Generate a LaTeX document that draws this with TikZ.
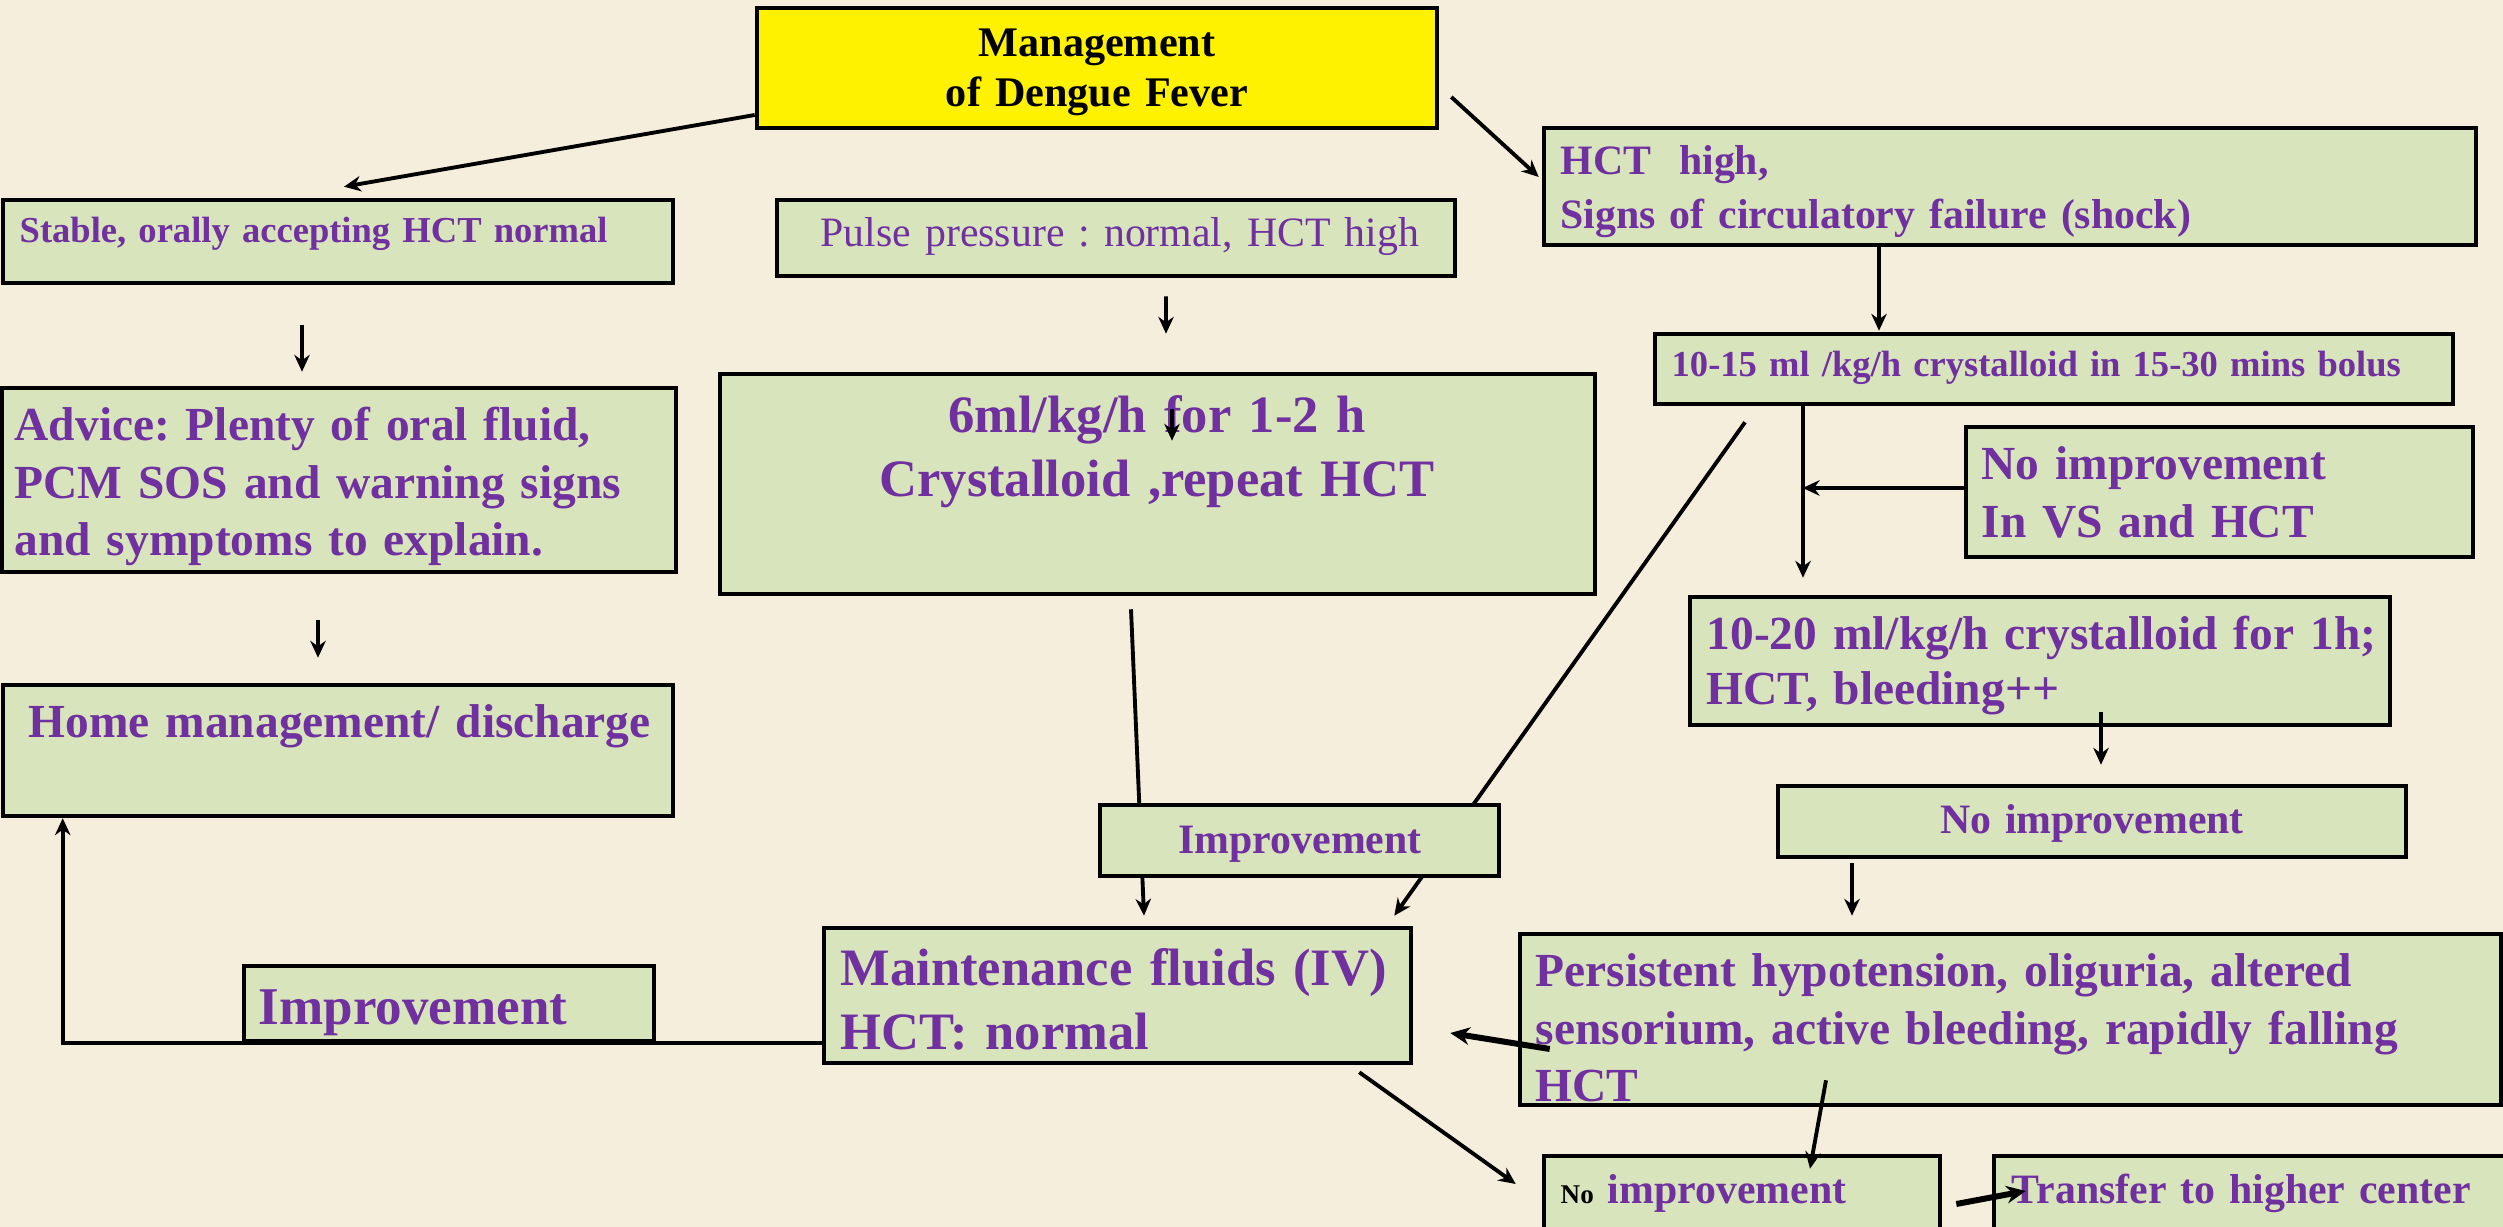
\documentclass[tikz,border=0pt]{standalone}
\usepackage{fontspec}
\setmainfont{Liberation Serif}
\usetikzlibrary{arrows.meta,calc}
\frenchspacing

\definecolor{paper}{HTML}{F6EEDC}
\definecolor{boxgreen}{HTML}{D8E4BC}
\definecolor{dpurple}{HTML}{7030A0}

\pgfdeclarelayer{paperlayer}
\pgfdeclarelayer{under}
\pgfsetlayers{paperlayer,under,main}

% type sizes (1 unit = 0.1 mm)
\newcommand\fsS{\fontsize{10.4pt}{12.6pt}\selectfont}
\newcommand\fsM{\fontsize{11.9pt}{15.1pt}\selectfont}
\newcommand\fsL{\fontsize{13.5pt}{16.3pt}\selectfont}
\newcommand\fsXL{\fontsize{14.95pt}{18.1pt}\selectfont}

\tikzset{
  box/.style={draw=black, line width=1.3pt, fill=boxgreen, inner sep=0pt, rectangle},
  hbox/.style={box, fill=yellow},
  txt/.style={inner sep=0pt, text=dpurple, anchor=base west, align=left, text width=#1},
  txt/.default=100mm,
  link/.style={line width=1.1pt, -{Stealth[length=4.8pt,width=4.4pt]}},
  heavy/.style={line width=1.7pt, -{Stealth[length=5.5pt,width=5pt]}},
}

\begin{document}
\begin{tikzpicture}[x=0.1mm, y=-0.1mm]
\useasboundingbox (0,0) rectangle (2503,1227);
\begin{pgfonlayer}{paperlayer}
  \fill[paper] (0,0) rectangle (2503,1227);
\end{pgfonlayer}

\begin{scope}
\clip (0,0) rectangle (2503,1227);

% ---- boxes ----
\node[hbox, minimum width=68mm,   minimum height=12mm]   (title)    at (1097,68)      {};
\node[box,  minimum width=67mm,   minimum height=8.3mm]  (stable)   at (338,241.5)    {};
\node[box,  minimum width=67.8mm, minimum height=7.6mm]  (pulse)    at (1116,238)     {};
\node[box,  minimum width=67.4mm, minimum height=18.4mm] (advice)   at (339,480)      {};
\node[box,  minimum width=87.5mm, minimum height=22mm]   (sixml)    at (1157.5,484)   {};
\node[box,  minimum width=93.2mm, minimum height=11.7mm] (shock)    at (2010,186.5)   {};
\node[box,  minimum width=79.8mm, minimum height=7mm]    (bolus)    at (2054,369)     {};
\node[box,  minimum width=50.7mm, minimum height=13mm]   (novs)     at (2219.5,492)   {};
\node[box,  minimum width=70mm,   minimum height=12.8mm] (onehr)    at (2040,661)     {};
\node[box,  minimum width=62.8mm, minimum height=7.1mm]  (noimp)    at (2092,821.5)   {};
\node[box,  minimum width=98.1mm, minimum height=17.1mm] (persist)  at (2010.5,1019.5) {};
\node[box,  minimum width=39.6mm, minimum height=10.4mm] (noimpb)   at (1742,1208)    {};
\node[box,  minimum width=56.6mm, minimum height=10.4mm] (transfer) at (2277,1208)    {};
\node[box,  minimum width=67mm,   minimum height=13.1mm] (home)     at (338,750.5)    {};
\node[box,  minimum width=58.7mm, minimum height=13.5mm] (maint)    at (1117.5,995.5) {};
\node[box,  minimum width=39.9mm, minimum height=7.1mm]  (imprmid)  at (1299.5,840.5) {};

% return line from maintenance back to home care
\draw[link] ($(maint.south west)+(0,-22)$) -| ($(home.south west)+(62,0)$);
\node[box,  minimum width=41mm,   minimum height=7.5mm]  (imprbl)   at (449,1003.5)   {};

% ---- texts ----
\node[txt=60mm, text=black, anchor=base, align=center,
      font=\bfseries\fontsize{12pt}{14.2pt}\selectfont] (t-title) at (1097,57)
      {Management\\of Dengue Fever};
\node[txt, font=\bfseries\fsS] (t-stable) at (19,243) {Stable, orally accepting HCT normal};
\node[txt, font=\fsM] (t-pulse) at (820,247) {Pulse pressure : normal, HCT high};
\node[txt, font=\bfseries\fsL] (t-advice) at (14,441)
      {Advice: Plenty of oral fluid,\\PCM SOS and warning signs\\and symptoms to explain.};
\node[txt=85mm, anchor=base, align=center, font=\bfseries\fsXL] (t-sixml) at (1157,433)
      {6ml/kg/h for 1-2 h\\Crystalloid ,repeat HCT};
\node[txt, font=\bfseries\fsM] (t-shock) at (1560,175)
      {HCT\ \ high,\\Signs of circulatory failure (shock)};
\node[txt, font=\bfseries\fsS] (t-bolus) at (1671,377)
      {10-15 ml /kg/h crystalloid in 15-30 mins bolus};
\node[txt, font=\bfseries\fsL] (t-novs) at (1981,480) {No improvement\\In VS and HCT};
\node[txt, font=\bfseries\fontsize{13.5pt}{15.6pt}\selectfont] (t-onehr) at (1706,650)
      {10-20 ml/kg/h crystalloid for 1h;\\HCT, bleeding++};
\node[txt=60mm, anchor=base, align=center, font=\bfseries\fsM] (t-noimp) at (2092,834)
      {No improvement};
\node[txt, font=\bfseries\fsL] (t-persist) at (1535,987)
      {Persistent hypotension, oliguria, altered\\sensorium, active bleeding, rapidly falling\\HCT};
\node[txt, font=\bfseries\fsM] (t-noimpb) at (1560,1204)
      {{\color{black}\fontsize{7.7pt}{9pt}\selectfont No} improvement};
\node[txt, font=\bfseries\fsM] (t-transfer) at (2011,1204) {Transfer to higher center};
\node[txt, font=\bfseries\fsL] (t-home) at (28,738) {Home management/ discharge};
\node[txt, font=\bfseries\fontsize{15.1pt}{18.1pt}\selectfont] (t-imprbl) at (258,1025) {Improvement};
\node[txt=38mm, anchor=base, align=center, font=\bfseries\fsM] (t-imprmid) at (1300,854)
      {Improvement};
\node[txt, font=\bfseries\fontsize{14.95pt}{18.2pt}\selectfont] (t-maint) at (840,986)
      {Maintenance fluids (IV)\\HCT: normal};

% ---- connectors passing behind the small improvement box ----
\begin{pgfonlayer}{under}
  \draw[link] ($(sixml.south)+(-26.5,13)$) -- ($(maint.north)+(26.5,-10)$);
  \draw[link] ($(bolus.south)+(-309,16)$) -- ($(maint.north east)+(-19,-10)$);
\end{pgfonlayer}

% ---- connectors ----
\draw[link] ($(title.west)+(0,47)$) -- ($(stable.north)+(6,-11)$);
\draw[link] ($(title.east)+(12,29)$) -- ($(shock.west)+(-3,-9.5)$);
\draw[link] ($(stable.south)+(-36,40)$) -- ($(advice.north)+(-37,-14)$);
\draw[link] ($(pulse.south)+(50,18)$) -- ($(sixml.north)+(8.5,-38)$);
\draw[link] ($(sixml.north)+(14.5,37)$) -- ($(sixml.north)+(14.5,69)$);
\draw[link] ($(advice.south)+(-21,46)$) -- ($(home.north)+(-20,-25)$);
\draw[link] ($(shock.south)+(-131,0)$) -- ($(bolus.north)+(-175,-1)$);
\draw[link] ($(bolus.south)+(-251,0)$) -- ($(onehr.north)+(-237,-17)$);
\draw[link] ($(novs.west)+(0,-4)$) -- ($(novs.west)+(-161,-4)$);
\draw[link] ($(onehr.south)+(61,-15)$) -- ($(noimp.north)+(9,-19)$);
\draw[link] ($(noimp.south)+(-240,4)$) -- ($(persist.north)+(-158.5,-16)$);
\draw[heavy] ($(persist.west)+(32,29.5)$) -- ($(maint.east)+(37,37.5)$);
\draw[link] ($(persist.south)+(-184.5,-27)$) -- ($(noimpb.north)+(68,15)$);
\draw[link] ($(maint.south east)+(-54,7)$) -- ($(noimpb.west)+(-26,-24)$);
\draw[heavy] ($(noimpb.east)+(14,-4)$) -- ($(transfer.west)+(34,-17)$);
\end{scope}
\end{tikzpicture}
\end{document}
